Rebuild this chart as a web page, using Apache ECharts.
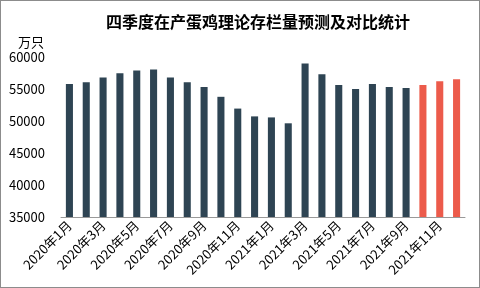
<!DOCTYPE html>
<html><head><meta charset="utf-8">
<script src="https://cdn.jsdelivr.net/npm/echarts@6/dist/echarts.min.js"></script>
<style>html,body{margin:0;padding:0;background:#fff}#c{width:478px;height:286px;border:1px solid #8c8c8c}</style>
</head><body><div id="c"></div>
<script>
const categories = ['2020年1月','2020年2月','2020年3月','2020年4月','2020年5月','2020年6月','2020年7月','2020年8月','2020年9月','2020年10月','2020年11月','2020年12月',
 '2021年1月','2021年2月','2021年3月','2021年4月','2021年5月','2021年6月','2021年7月','2021年8月','2021年9月','2021年10月','2021年11月','2021年12月'];
const values = [55780,56070,56780,57450,57900,58060,56780,56070,55300,53780,51940,50720,
 50560,49640,58980,57290,55610,55000,55770,55300,55150,55610,56220,56530];
const forecastStart = 21;
const unitLabel = '万只';
const darkColor = '#2e4453';
const redColor = '#ec5b4b';
const chart = echarts.init(document.getElementById('c'));
chart.setOption({
  animation:false,
  title:{text:'四季度在产蛋鸡理论存栏量预测及对比统计',left:100,top:8,textStyle:{fontFamily:'Noto Sans CJK SC',fontSize:16,fontWeight:'bold',color:'#000'}},
  graphic:[{type:'text',left:17,top:35,style:{text:unitLabel,fontSize:13,fill:'#000',fontFamily:'Noto Sans CJK SC'}}],
  grid:{left:60,right:14,top:56,bottom:70},
  xAxis:{type:'category',data:categories,boundaryGap:true,
    axisLine:{lineStyle:{color:'#999'}},
    axisTick:{interval:1,length:4,lineStyle:{color:'#999'}},
    axisLabel:{interval:1,rotate:45,fontSize:13,color:'#000',fontFamily:'Noto Sans CJK SC',margin:6}},
  yAxis:{type:'value',min:35000,max:60000,interval:5000,
    axisLine:{show:false},axisTick:{show:false},splitLine:{show:false},
    axisLabel:{fontSize:13,color:'#000',fontFamily:'Noto Sans CJK SC',margin:16,formatter:v=>String(v)}},
  series:[{type:'bar',barWidth:'42%',
    data:values.map((v,i)=>({value:v,itemStyle:{color:i>=forecastStart?redColor:darkColor}}))}]
});
</script></body></html>
